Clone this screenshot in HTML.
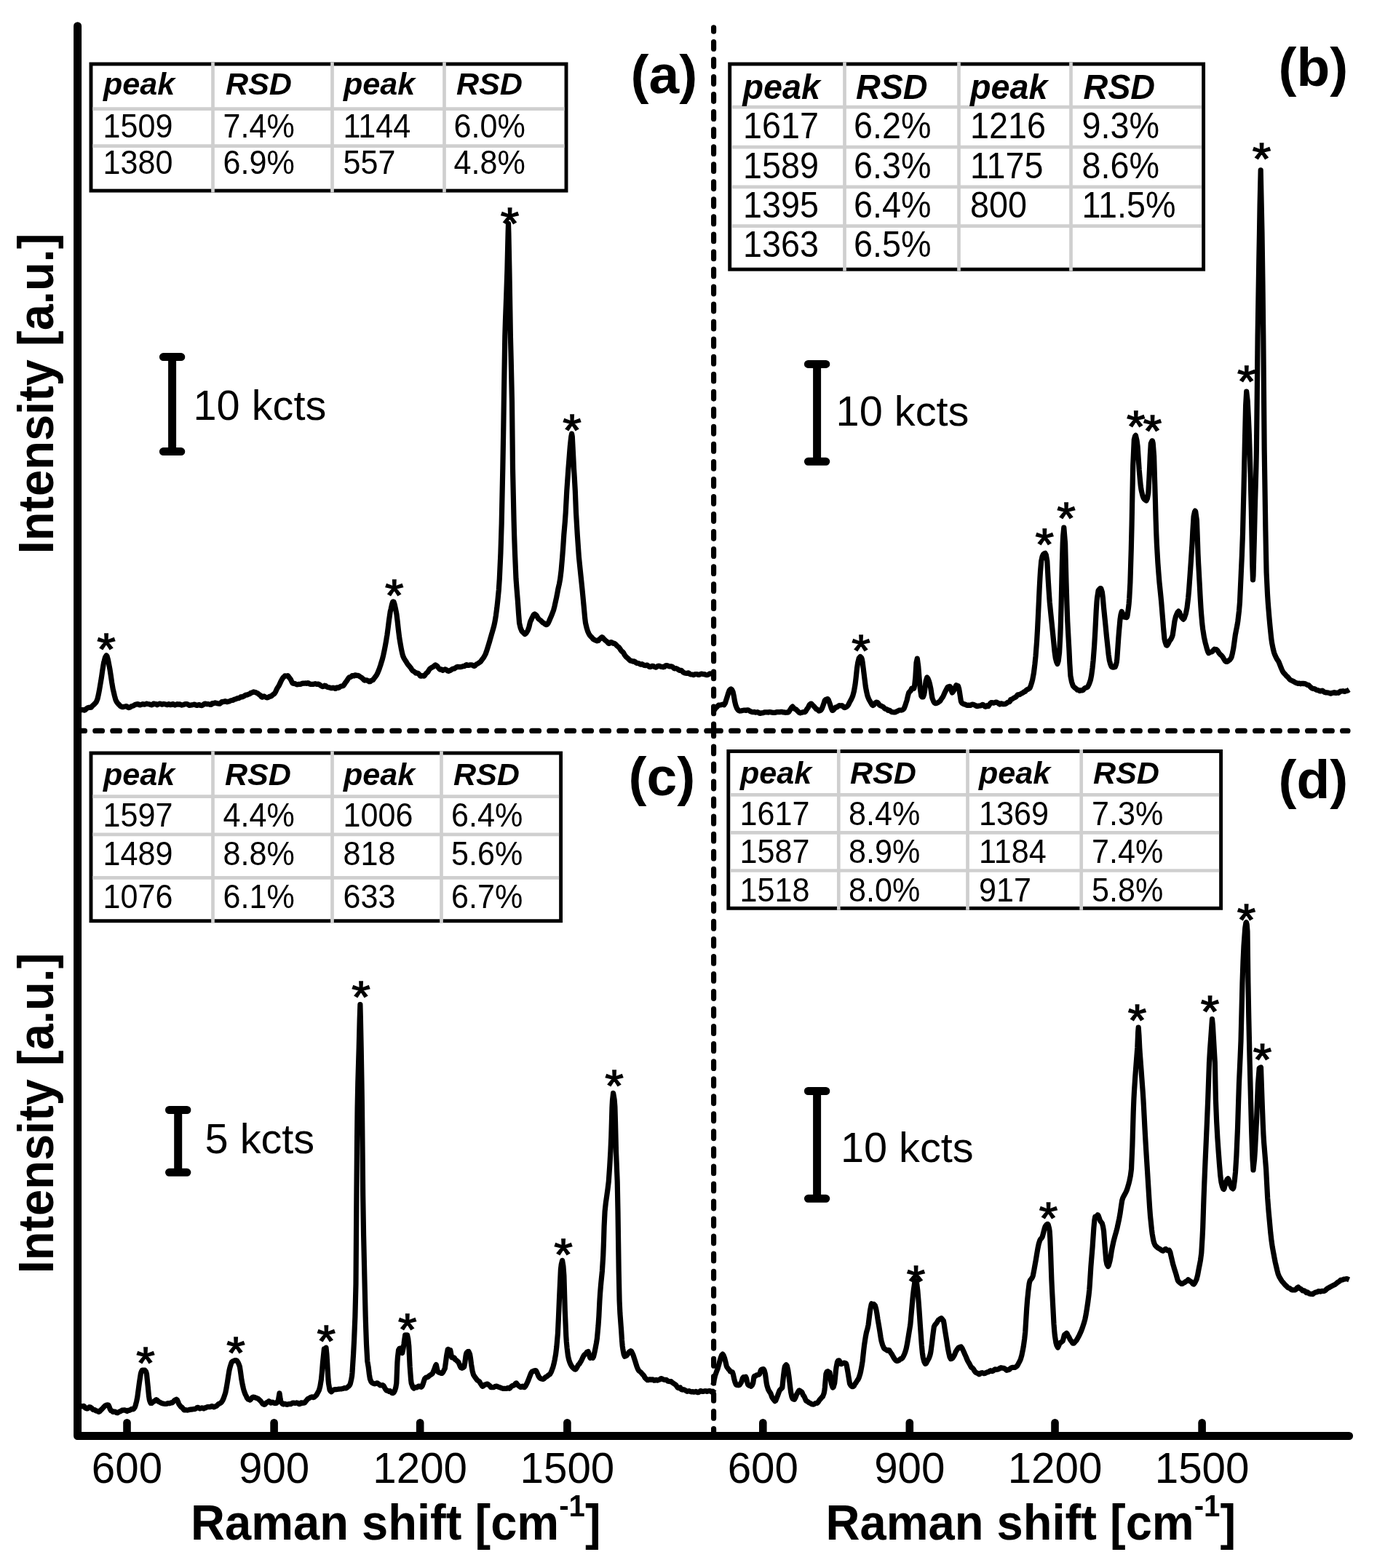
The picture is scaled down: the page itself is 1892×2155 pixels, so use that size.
<!DOCTYPE html>
<html lang="en"><head><meta charset="utf-8"><title>SERS spectra with RSD tables</title>
<style>html,body{margin:0;padding:0;background:#fff;}svg{display:block;}text{font-family:"Liberation Sans", Arial, Helvetica, sans-serif;fill:#000;}.tb{font-weight:bold;font-style:italic;}.b{font-weight:bold;}</style></head><body>
<svg width="1892" height="2155" viewBox="0 0 1892 2155">
<rect x="0" y="0" width="1892" height="2155" fill="#fff"/>
<g>
<rect x="125.0" y="88.0" width="653.0" height="174.1" fill="#fff" stroke="#000" stroke-width="4.9"/>
<line x1="127.4" y1="149.6" x2="775.5" y2="149.6" stroke="#cfcfcf" stroke-width="4.7"/>
<line x1="127.4" y1="200.6" x2="775.5" y2="200.6" stroke="#cfcfcf" stroke-width="4.7"/>
<line x1="292.5" y1="85.5" x2="292.5" y2="264.5" stroke="#cfcfcf" stroke-width="4.7"/>
<line x1="456.5" y1="85.5" x2="456.5" y2="264.5" stroke="#cfcfcf" stroke-width="4.7"/>
<line x1="610.5" y1="85.5" x2="610.5" y2="264.5" stroke="#cfcfcf" stroke-width="4.7"/>
<text class="tb" transform="translate(141.9,130.2) scale(1.007,1)" font-size="42.8">peak</text>
<text class="tb" transform="translate(309.9,130.2) scale(1.007,1)" font-size="42.8">RSD</text>
<text class="tb" transform="translate(471.9,130.2) scale(1.007,1)" font-size="42.8">peak</text>
<text class="tb" transform="translate(626.9,130.2) scale(1.007,1)" font-size="42.8">RSD</text>
<text transform="translate(141.5,189.1) scale(0.945,1)" font-size="45.6">1509</text>
<text transform="translate(306.5,189.1) scale(0.945,1)" font-size="45.6">7.4%</text>
<text transform="translate(471.5,189.1) scale(0.945,1)" font-size="45.6">1144</text>
<text transform="translate(623.5,189.1) scale(0.945,1)" font-size="45.6">6.0%</text>
<text transform="translate(141.5,239.2) scale(0.945,1)" font-size="45.6">1380</text>
<text transform="translate(306.5,239.2) scale(0.945,1)" font-size="45.6">6.9%</text>
<text transform="translate(471.5,239.2) scale(0.945,1)" font-size="45.6">557</text>
<text transform="translate(623.5,239.2) scale(0.945,1)" font-size="45.6">4.8%</text>
</g>
<g>
<rect x="1002.7" y="88.0" width="650.9" height="282.2" fill="#fff" stroke="#000" stroke-width="4.9"/>
<line x1="1005.1" y1="147.2" x2="1651.1" y2="147.2" stroke="#cfcfcf" stroke-width="4.7"/>
<line x1="1005.1" y1="202.1" x2="1651.1" y2="202.1" stroke="#cfcfcf" stroke-width="4.7"/>
<line x1="1005.1" y1="256.8" x2="1651.1" y2="256.8" stroke="#cfcfcf" stroke-width="4.7"/>
<line x1="1005.1" y1="310.7" x2="1651.1" y2="310.7" stroke="#cfcfcf" stroke-width="4.7"/>
<line x1="1160.5" y1="85.5" x2="1160.5" y2="372.6" stroke="#cfcfcf" stroke-width="4.7"/>
<line x1="1317.5" y1="85.5" x2="1317.5" y2="372.6" stroke="#cfcfcf" stroke-width="4.7"/>
<line x1="1471.5" y1="85.5" x2="1471.5" y2="372.6" stroke="#cfcfcf" stroke-width="4.7"/>
<text class="tb" transform="translate(1020.4,135.7) scale(0.984,1)" font-size="47.5">peak</text>
<text class="tb" transform="translate(1175.9,135.7) scale(0.984,1)" font-size="47.5">RSD</text>
<text class="tb" transform="translate(1332.9,135.7) scale(0.984,1)" font-size="47.5">peak</text>
<text class="tb" transform="translate(1488.4,135.7) scale(0.984,1)" font-size="47.5">RSD</text>
<text transform="translate(1021.0,190.3) scale(0.950,1)" font-size="49.2">1617</text>
<text transform="translate(1173.0,190.3) scale(0.950,1)" font-size="49.2">6.2%</text>
<text transform="translate(1333.0,190.3) scale(0.950,1)" font-size="49.2">1216</text>
<text transform="translate(1486.5,190.3) scale(0.950,1)" font-size="49.2">9.3%</text>
<text transform="translate(1021.0,244.7) scale(0.950,1)" font-size="49.2">1589</text>
<text transform="translate(1173.0,244.7) scale(0.950,1)" font-size="49.2">6.3%</text>
<text transform="translate(1333.0,244.7) scale(0.950,1)" font-size="49.2">1175</text>
<text transform="translate(1486.5,244.7) scale(0.950,1)" font-size="49.2">8.6%</text>
<text transform="translate(1021.0,298.9) scale(0.950,1)" font-size="49.2">1395</text>
<text transform="translate(1173.0,298.9) scale(0.950,1)" font-size="49.2">6.4%</text>
<text transform="translate(1333.0,298.9) scale(0.950,1)" font-size="49.2">800</text>
<text transform="translate(1486.5,298.9) scale(0.950,1)" font-size="49.2">11.5%</text>
<text transform="translate(1021.0,352.8) scale(0.950,1)" font-size="49.2">1363</text>
<text transform="translate(1173.0,352.8) scale(0.950,1)" font-size="49.2">6.5%</text>
</g>
<g>
<rect x="125.0" y="1035.0" width="645.6" height="230.7" fill="#fff" stroke="#000" stroke-width="4.9"/>
<line x1="127.4" y1="1094.6" x2="768.1" y2="1094.6" stroke="#cfcfcf" stroke-width="4.7"/>
<line x1="127.4" y1="1146.9" x2="768.1" y2="1146.9" stroke="#cfcfcf" stroke-width="4.7"/>
<line x1="127.4" y1="1206.3" x2="768.1" y2="1206.3" stroke="#cfcfcf" stroke-width="4.7"/>
<line x1="292.5" y1="1032.6" x2="292.5" y2="1268.2" stroke="#cfcfcf" stroke-width="4.7"/>
<line x1="456.5" y1="1032.6" x2="456.5" y2="1268.2" stroke="#cfcfcf" stroke-width="4.7"/>
<line x1="606.5" y1="1032.6" x2="606.5" y2="1268.2" stroke="#cfcfcf" stroke-width="4.7"/>
<text class="tb" transform="translate(141.9,1078.9) scale(1.007,1)" font-size="42.8">peak</text>
<text class="tb" transform="translate(308.9,1078.9) scale(1.007,1)" font-size="42.8">RSD</text>
<text class="tb" transform="translate(471.9,1078.9) scale(1.007,1)" font-size="42.8">peak</text>
<text class="tb" transform="translate(622.9,1078.9) scale(1.007,1)" font-size="42.8">RSD</text>
<text transform="translate(141.5,1136.1) scale(0.945,1)" font-size="45.6">1597</text>
<text transform="translate(306.5,1136.1) scale(0.945,1)" font-size="45.6">4.4%</text>
<text transform="translate(471.5,1136.1) scale(0.945,1)" font-size="45.6">1006</text>
<text transform="translate(620.0,1136.1) scale(0.945,1)" font-size="45.6">6.4%</text>
<text transform="translate(141.5,1188.5) scale(0.945,1)" font-size="45.6">1489</text>
<text transform="translate(306.5,1188.5) scale(0.945,1)" font-size="45.6">8.8%</text>
<text transform="translate(471.5,1188.5) scale(0.945,1)" font-size="45.6">818</text>
<text transform="translate(620.0,1188.5) scale(0.945,1)" font-size="45.6">5.6%</text>
<text transform="translate(141.5,1248.2) scale(0.945,1)" font-size="45.6">1076</text>
<text transform="translate(306.5,1248.2) scale(0.945,1)" font-size="45.6">6.1%</text>
<text transform="translate(471.5,1248.2) scale(0.945,1)" font-size="45.6">633</text>
<text transform="translate(620.0,1248.2) scale(0.945,1)" font-size="45.6">6.7%</text>
</g>
<g>
<rect x="1000.8" y="1032.5" width="676.8" height="215.8" fill="#fff" stroke="#000" stroke-width="4.9"/>
<line x1="1003.2" y1="1092.4" x2="1675.1" y2="1092.4" stroke="#cfcfcf" stroke-width="4.7"/>
<line x1="1003.2" y1="1144.3" x2="1675.1" y2="1144.3" stroke="#cfcfcf" stroke-width="4.7"/>
<line x1="1003.2" y1="1196.5" x2="1675.1" y2="1196.5" stroke="#cfcfcf" stroke-width="4.7"/>
<line x1="1152.3" y1="1030.0" x2="1152.3" y2="1250.7" stroke="#cfcfcf" stroke-width="4.7"/>
<line x1="1329.5" y1="1030.0" x2="1329.5" y2="1250.7" stroke="#cfcfcf" stroke-width="4.7"/>
<line x1="1485.7" y1="1030.0" x2="1485.7" y2="1250.7" stroke="#cfcfcf" stroke-width="4.7"/>
<text class="tb" transform="translate(1016.9,1077.2) scale(1.007,1)" font-size="42.8">peak</text>
<text class="tb" transform="translate(1167.9,1077.2) scale(1.007,1)" font-size="42.8">RSD</text>
<text class="tb" transform="translate(1344.9,1077.2) scale(1.007,1)" font-size="42.8">peak</text>
<text class="tb" transform="translate(1501.9,1077.2) scale(1.007,1)" font-size="42.8">RSD</text>
<text transform="translate(1016.5,1134.1) scale(0.945,1)" font-size="45.6">1617</text>
<text transform="translate(1166.0,1134.1) scale(0.945,1)" font-size="45.6">8.4%</text>
<text transform="translate(1345.0,1134.1) scale(0.945,1)" font-size="45.6">1369</text>
<text transform="translate(1500.0,1134.1) scale(0.945,1)" font-size="45.6">7.3%</text>
<text transform="translate(1016.5,1186.2) scale(0.945,1)" font-size="45.6">1587</text>
<text transform="translate(1166.0,1186.2) scale(0.945,1)" font-size="45.6">8.9%</text>
<text transform="translate(1345.0,1186.2) scale(0.945,1)" font-size="45.6">1184</text>
<text transform="translate(1500.0,1186.2) scale(0.945,1)" font-size="45.6">7.4%</text>
<text transform="translate(1016.5,1238.6) scale(0.945,1)" font-size="45.6">1518</text>
<text transform="translate(1166.0,1238.6) scale(0.945,1)" font-size="45.6">8.0%</text>
<text transform="translate(1345.0,1238.6) scale(0.945,1)" font-size="45.6">917</text>
<text transform="translate(1500.0,1238.6) scale(0.945,1)" font-size="45.6">5.8%</text>
</g>
<path d="M106.6,35.7 L106.6,1973.5 L1853.6,1973.5" fill="none" stroke="#000" stroke-width="11.0" stroke-linecap="round" stroke-linejoin="round"/>
<line x1="174.5" y1="1955.3" x2="174.5" y2="1972" stroke="#000" stroke-width="10.6" stroke-linecap="round"/>
<line x1="376.6" y1="1955.3" x2="376.6" y2="1972" stroke="#000" stroke-width="10.6" stroke-linecap="round"/>
<line x1="577.2" y1="1955.3" x2="577.2" y2="1972" stroke="#000" stroke-width="10.6" stroke-linecap="round"/>
<line x1="779.4" y1="1955.3" x2="779.4" y2="1972" stroke="#000" stroke-width="10.6" stroke-linecap="round"/>
<line x1="1048.3" y1="1955.3" x2="1048.3" y2="1972" stroke="#000" stroke-width="10.6" stroke-linecap="round"/>
<line x1="1249.8" y1="1955.3" x2="1249.8" y2="1972" stroke="#000" stroke-width="10.6" stroke-linecap="round"/>
<line x1="1449.5" y1="1955.3" x2="1449.5" y2="1972" stroke="#000" stroke-width="10.6" stroke-linecap="round"/>
<line x1="1651.6" y1="1955.3" x2="1651.6" y2="1972" stroke="#000" stroke-width="10.6" stroke-linecap="round"/>
<text text-anchor="middle" x="174.5" y="2037.8" font-size="58.3">600</text>
<text text-anchor="middle" x="376.6" y="2037.8" font-size="58.3">900</text>
<text text-anchor="middle" x="577.2" y="2037.8" font-size="58.3">1200</text>
<text text-anchor="middle" x="779.4" y="2037.8" font-size="58.3">1500</text>
<text text-anchor="middle" x="1048.3" y="2037.8" font-size="58.3">600</text>
<text text-anchor="middle" x="1249.8" y="2037.8" font-size="58.3">900</text>
<text text-anchor="middle" x="1449.5" y="2037.8" font-size="58.3">1200</text>
<text text-anchor="middle" x="1651.6" y="2037.8" font-size="58.3">1500</text>
<text class="b" transform="translate(262.0,2115.6) scale(0.957,1)" font-size="68.0">Raman shift [cm<tspan dy="-32" font-size="42">-1</tspan><tspan dy="32">]</tspan></text>
<text class="b" transform="translate(1134.5,2115.6) scale(0.957,1)" font-size="68.0">Raman shift [cm<tspan dy="-32" font-size="42">-1</tspan><tspan dy="32">]</tspan></text>
<text class="b" transform="translate(73.3,541.0) rotate(-90) scale(0.956,1)" font-size="68" text-anchor="middle">Intensity [a.u.]</text>
<text class="b" transform="translate(73.3,1530.0) rotate(-90) scale(0.956,1)" font-size="68" text-anchor="middle">Intensity [a.u.]</text>
<line x1="980.6" y1="37.9" x2="980.6" y2="1004.0" stroke="#000" stroke-width="7.2" stroke-linecap="round" stroke-dasharray="9.7 14.34" stroke-dashoffset="4.4"/>
<line x1="980.6" y1="1002.0" x2="980.6" y2="1975.0" stroke="#000" stroke-width="7.2" stroke-linecap="round" stroke-dasharray="9.7 14.34" stroke-dashoffset="0.0"/>
<line x1="106.8" y1="1004.4" x2="985.0" y2="1004.4" stroke="#000" stroke-width="7.2" stroke-linecap="round" stroke-dasharray="9.7 14.30" stroke-dashoffset="0.0"/>
<line x1="980.6" y1="1004.4" x2="1852.0" y2="1004.4" stroke="#000" stroke-width="7.2" stroke-linecap="round" stroke-dasharray="9.7 14.30" stroke-dashoffset="0.0"/>
<path d="M224.4,490.6 H248.8 M224.4,620.6 H248.8 M236.6,490.6 V620.6" fill="none" stroke="#000" stroke-width="11.0" stroke-linecap="round"/>
<path d="M1110.4,500.4 H1134.8 M1110.4,634.3 H1134.8 M1122.6,500.4 V634.3" fill="none" stroke="#000" stroke-width="11.0" stroke-linecap="round"/>
<path d="M232.5,1525.5 H256.9 M232.5,1611.3 H256.9 M244.7,1525.5 V1611.3" fill="none" stroke="#000" stroke-width="11.0" stroke-linecap="round"/>
<path d="M1110.4,1499.5 H1134.8 M1110.4,1647.3 H1134.8 M1122.6,1499.5 V1647.3" fill="none" stroke="#000" stroke-width="11.0" stroke-linecap="round"/>
<text transform="translate(265.5,576.7) scale(0.990,1)" font-size="58.3">10 kcts</text>
<text transform="translate(1148.6,584.9) scale(0.990,1)" font-size="58.3">10 kcts</text>
<text transform="translate(281.5,1585.3) scale(0.990,1)" font-size="58.3">5 kcts</text>
<text transform="translate(1154.9,1596.6) scale(0.990,1)" font-size="58.3">10 kcts</text>
<text class="b" x="866.5" y="128.0" font-size="75">(a)</text>
<text class="b" x="1756.5" y="118.0" font-size="75">(b)</text>
<text class="b" x="863.5" y="1093.0" font-size="75">(c)</text>
<text class="b" x="1756.5" y="1096.8" font-size="75">(d)</text>
<path d="M108.1,977.0 L109.4,977.1 L110.7,976.0 L112.0,975.6 L113.3,975.7 L114.6,975.6 L115.9,976.1 L117.2,975.6 L118.5,974.1 L119.8,973.2 L121.1,972.7 L122.4,972.3 L123.7,972.5 L125.1,972.3 L126.3,970.9 L127.6,969.5 L128.9,968.4 L130.2,967.1 L131.5,965.8 L132.6,964.0 L134.1,960.1 L135.4,954.3 L136.7,947.3 L137.6,942.0 L139.3,931.9 L140.6,922.8 L141.9,914.5 L142.6,910.5 L143.2,908.4 L144.5,903.4 L146.2,900.8 L147.1,902.0 L148.4,906.5 L149.7,913.1 L150.2,915.9 L151.0,920.0 L152.3,928.6 L153.6,937.6 L155.2,947.0 L156.2,951.1 L157.5,956.6 L158.8,961.4 L160.2,964.4 L161.4,966.1 L162.7,967.6 L164.0,968.9 L165.3,970.4 L166.6,971.0 L167.7,971.6 L169.2,971.7 L170.5,971.2 L171.8,971.0 L173.1,970.5 L174.4,970.9 L175.7,972.1 L177.0,972.6 L178.3,972.2 L179.6,971.5 L180.3,971.0 L180.9,970.5 L182.2,970.3 L183.5,969.9 L184.8,968.9 L186.1,968.2 L187.4,968.2 L188.7,967.7 L190.3,967.8 L191.3,968.8 L192.6,969.0 L193.9,968.5 L195.2,967.8 L196.5,967.7 L197.8,968.1 L199.1,968.1 L200.4,967.4 L201.7,967.1 L203.0,967.5 L204.3,967.7 L205.6,967.9 L206.9,968.5 L208.2,968.9 L209.5,968.4 L210.8,967.2 L212.1,967.2 L213.4,967.8 L214.7,967.6 L215.4,968.0 L216.0,968.7 L217.3,968.0 L218.6,967.3 L219.9,967.1 L221.2,967.6 L222.5,968.2 L223.8,967.8 L225.1,967.4 L226.4,967.7 L227.7,968.0 L229.0,968.6 L230.3,968.6 L231.6,967.7 L232.9,967.8 L234.2,968.7 L235.5,968.5 L236.8,967.6 L238.1,967.7 L239.4,968.6 L240.4,969.1 L242.0,968.3 L243.3,967.7 L244.6,968.1 L245.9,967.9 L247.2,967.8 L248.5,968.6 L249.8,969.1 L251.1,968.8 L252.4,968.4 L253.7,967.9 L255.0,967.5 L256.3,967.6 L257.6,967.8 L258.9,968.6 L260.2,969.4 L261.5,969.2 L262.8,968.9 L264.1,968.8 L265.5,968.5 L266.7,968.1 L268.0,968.3 L269.3,969.1 L270.6,969.5 L271.9,969.1 L273.2,968.5 L274.5,968.8 L275.8,969.5 L277.1,969.6 L278.4,969.1 L279.7,968.2 L281.0,967.3 L282.3,967.0 L283.6,967.6 L284.9,967.8 L286.2,967.5 L287.5,968.0 L288.8,968.5 L290.1,968.5 L290.6,968.1 L291.4,966.8 L292.7,966.5 L294.0,966.6 L295.3,965.9 L296.6,966.0 L297.9,966.7 L299.2,966.8 L300.5,967.1 L301.8,967.2 L303.1,966.3 L304.4,964.8 L305.7,964.4 L307.0,964.7 L308.3,964.0 L309.6,963.6 L310.9,964.3 L312.2,964.7 L313.5,964.2 L314.8,964.0 L315.6,963.6 L317.4,962.7 L318.7,962.5 L320.0,962.4 L321.3,961.6 L322.6,961.0 L323.9,960.9 L325.2,960.2 L326.5,959.7 L327.8,959.7 L329.1,959.1 L330.7,957.9 L331.7,957.7 L333.0,957.8 L334.3,957.4 L335.6,956.5 L336.9,955.4 L338.2,955.1 L339.5,955.1 L340.7,954.4 L342.1,954.0 L343.4,953.4 L344.7,952.3 L346.0,952.0 L347.3,951.4 L348.6,950.9 L349.9,951.2 L350.7,951.4 L352.5,952.2 L353.8,952.8 L355.1,953.7 L356.4,954.9 L357.7,955.5 L358.3,956.0 L359.0,957.6 L360.3,958.2 L361.6,957.3 L362.9,956.9 L364.2,957.8 L365.8,958.5 L366.8,958.8 L368.1,958.7 L369.4,957.9 L370.7,957.1 L372.0,957.1 L373.3,956.4 L374.6,955.0 L375.8,954.2 L377.2,953.2 L378.5,951.1 L379.8,948.2 L381.1,945.6 L382.4,943.6 L383.3,942.2 L385.0,938.6 L386.3,935.7 L387.6,933.4 L388.9,931.3 L390.2,930.2 L390.8,929.7 L391.5,928.8 L392.8,929.0 L394.1,929.0 L395.4,928.6 L395.9,929.0 L396.7,930.4 L398.0,931.9 L399.3,933.6 L400.6,936.3 L401.9,938.8 L403.4,939.4 L404.5,939.4 L405.8,939.8 L407.1,940.3 L408.4,940.8 L409.7,940.6 L411.0,940.3 L412.3,940.4 L413.6,940.2 L414.9,939.4 L415.9,939.0 L417.5,939.3 L418.8,939.0 L420.1,938.9 L421.4,939.4 L422.7,938.7 L424.0,938.8 L425.3,940.0 L426.6,940.5 L427.9,940.4 L429.2,940.4 L430.5,940.4 L431.0,940.4 L431.8,940.0 L433.1,939.7 L434.4,940.1 L435.7,940.5 L437.0,940.1 L438.3,940.4 L439.6,941.4 L440.9,942.4 L442.2,943.1 L443.5,943.6 L444.8,943.2 L446.0,942.2 L447.4,942.5 L448.7,943.7 L450.0,944.5 L451.3,944.6 L452.6,944.9 L453.9,945.3 L455.2,945.7 L456.5,945.7 L457.8,945.2 L459.1,945.5 L460.4,946.5 L461.0,946.4 L461.7,945.2 L463.0,944.9 L464.3,945.4 L465.6,945.1 L466.9,944.1 L468.2,943.3 L469.5,943.0 L471.1,942.7 L472.1,942.0 L473.4,940.1 L474.7,938.0 L476.0,936.4 L477.3,934.5 L478.6,932.3 L479.9,930.8 L481.1,930.6 L482.5,930.1 L483.8,928.7 L485.1,928.7 L486.4,928.9 L487.7,927.8 L489.0,927.9 L490.3,928.5 L491.1,928.3 L492.9,928.8 L494.2,929.7 L495.5,930.5 L496.8,931.3 L498.1,932.4 L499.4,933.7 L500.7,935.1 L501.2,935.1 L502.0,934.7 L503.3,934.8 L504.6,935.1 L505.9,935.9 L507.2,936.8 L508.7,936.6 L509.8,935.5 L511.1,935.1 L512.4,934.5 L513.7,932.8 L515.0,931.0 L516.2,929.5 L517.6,927.4 L518.9,924.8 L520.2,921.7 L521.5,918.2 L522.8,914.4 L523.7,911.4 L525.4,905.9 L526.7,900.6 L528.0,894.6 L529.3,887.9 L530.6,880.7 L531.2,876.7 L531.9,872.8 L533.2,862.9 L534.5,852.3 L535.8,843.4 L536.2,840.7 L537.1,837.1 L538.4,831.2 L539.7,827.2 L540.3,826.8 L541.0,827.2 L542.3,831.2 L543.6,837.2 L544.3,840.7 L544.9,843.9 L546.2,854.5 L547.5,866.5 L548.8,876.9 L550.1,884.6 L551.4,892.0 L552.7,898.1 L553.8,901.9 L555.3,905.1 L556.6,907.2 L557.9,909.1 L559.2,911.4 L560.5,913.4 L561.3,914.2 L563.1,916.3 L564.4,917.9 L565.7,920.1 L567.0,921.8 L568.3,922.5 L569.6,923.4 L570.9,924.5 L571.3,925.2 L572.2,925.2 L573.5,925.0 L574.8,925.6 L576.1,927.1 L577.4,928.9 L578.7,929.2 L580.0,928.6 L581.4,929.0 L582.6,929.2 L583.9,927.9 L585.2,925.9 L586.5,924.7 L587.8,923.6 L589.1,921.4 L590.4,919.4 L591.4,918.6 L593.0,917.5 L594.3,916.8 L595.6,916.2 L596.9,914.9 L598.2,913.9 L598.9,914.2 L599.5,914.6 L600.8,915.6 L602.1,917.4 L603.4,919.1 L604.7,920.1 L606.0,920.2 L606.4,919.9 L607.3,920.8 L608.6,921.4 L609.9,920.5 L611.2,919.9 L612.5,920.1 L613.8,920.8 L615.1,922.1 L616.5,922.4 L617.7,921.7 L619.0,921.3 L620.3,920.4 L621.6,919.4 L622.9,919.1 L624.2,919.0 L625.5,918.1 L626.8,917.2 L628.1,916.5 L629.0,916.4 L630.7,916.7 L632.0,916.7 L633.3,916.6 L634.6,916.3 L635.9,915.7 L637.2,915.7 L638.5,915.4 L639.8,914.2 L641.1,913.6 L641.5,914.0 L642.4,914.5 L643.7,914.5 L645.0,914.1 L646.3,913.8 L647.6,913.8 L648.9,914.0 L650.2,914.9 L651.6,915.5 L652.8,914.8 L654.1,913.4 L655.4,912.5 L656.7,912.0 L658.0,911.0 L659.3,910.1 L660.6,909.1 L661.6,907.6 L663.2,905.4 L664.5,903.8 L665.8,901.4 L666.5,900.0 L667.1,899.0 L668.4,895.3 L669.7,891.3 L671.1,886.8 L672.3,882.9 L673.6,878.3 L674.9,873.8 L675.6,871.2 L676.2,869.3 L677.5,864.8 L678.8,860.0 L679.6,856.2 L680.1,853.8 L681.4,845.8 L682.7,836.1 L683.8,826.1 L685.3,810.6 L686.3,795.6 L687.9,760.6 L688.7,735.0 L689.2,719.2 L690.8,644.0 L691.8,587.6 L692.3,553.0 L693.1,503.8 L693.8,462.0 L694.4,441.9 L695.7,406.9 L696.9,371.0 L698.1,320.0 L698.5,307.4 L698.9,320.0 L699.9,371.0 L700.9,430.1 L701.4,462.0 L702.2,493.8 L703.5,553.0 L704.5,644.0 L706.1,716.5 L706.6,735.0 L707.4,757.7 L709.0,795.6 L710.0,809.0 L711.4,826.0 L712.6,844.1 L713.6,856.4 L715.2,863.2 L716.5,866.3 L717.0,867.4 L717.8,868.3 L719.1,869.5 L720.4,871.0 L721.3,871.5 L723.0,870.1 L724.3,868.1 L725.5,865.9 L726.9,861.6 L728.2,856.0 L729.0,853.5 L729.5,852.7 L730.8,849.7 L732.5,846.3 L733.4,844.6 L734.7,843.9 L735.5,844.5 L736.0,844.8 L737.3,846.1 L739.0,849.1 L739.9,850.4 L741.2,851.5 L742.5,852.5 L743.8,853.6 L745.0,855.0 L746.4,856.0 L747.7,856.7 L749.0,857.9 L750.3,858.6 L751.6,858.5 L752.9,857.0 L754.2,854.2 L755.5,851.2 L756.0,850.0 L756.8,848.3 L758.1,845.2 L759.7,841.0 L760.7,838.2 L762.0,833.1 L763.6,825.8 L764.6,821.3 L765.9,814.6 L766.6,810.6 L767.2,807.9 L768.5,802.2 L769.7,795.5 L771.1,784.0 L772.7,765.3 L773.7,752.1 L774.8,735.0 L776.3,717.4 L777.2,704.6 L778.8,674.3 L780.2,654.1 L780.9,644.0 L781.5,636.5 L782.8,619.8 L783.3,613.6 L784.1,606.0 L784.8,600.0 L785.6,596.1 L786.3,600.0 L787.0,613.6 L788.0,633.2 L788.5,644.0 L789.3,656.4 L790.3,674.3 L791.5,704.6 L793.3,735.0 L794.5,752.6 L795.4,765.4 L797.1,782.2 L798.5,795.7 L799.7,807.2 L801.0,820.5 L801.5,826.0 L802.3,834.3 L803.6,848.8 L804.5,856.1 L806.2,863.3 L807.5,867.5 L809.1,871.0 L810.1,872.7 L811.4,874.4 L812.7,875.5 L814.0,877.1 L815.3,878.6 L815.9,878.7 L816.6,879.1 L817.9,880.0 L819.2,880.3 L820.5,880.8 L822.0,880.5 L823.1,879.0 L824.4,877.9 L825.7,876.8 L827.0,875.7 L828.0,876.1 L829.6,878.0 L830.9,879.4 L832.0,880.3 L833.5,881.4 L834.8,882.7 L836.1,884.3 L837.2,884.3 L838.7,882.9 L840.0,882.5 L841.3,883.6 L843.0,884.3 L843.9,884.2 L845.2,884.9 L846.5,886.1 L847.8,887.6 L849.3,888.9 L850.4,889.7 L851.7,891.4 L853.0,893.5 L854.0,894.8 L855.6,896.0 L856.9,897.6 L858.2,900.1 L859.5,901.8 L860.8,903.2 L862.1,904.3 L863.4,905.3 L864.7,906.8 L866.0,907.9 L867.2,908.2 L868.6,908.7 L869.9,909.2 L871.2,908.8 L872.5,909.4 L873.8,910.8 L875.1,911.3 L876.4,911.4 L877.7,911.7 L879.0,912.6 L880.3,913.2 L881.6,912.9 L882.2,912.7 L882.9,913.1 L884.2,913.9 L885.5,914.5 L886.8,914.6 L888.1,914.1 L889.4,914.2 L890.7,915.3 L892.0,916.2 L893.3,916.6 L894.6,916.3 L895.9,915.4 L897.3,915.3 L898.5,916.1 L899.8,916.7 L901.1,917.2 L902.4,916.6 L903.7,915.5 L905.0,915.2 L906.3,915.4 L907.6,916.1 L908.9,916.4 L910.2,916.3 L911.5,916.8 L912.8,916.5 L914.1,915.1 L915.4,914.5 L916.7,914.8 L917.3,914.9 L918.0,915.2 L919.3,915.8 L920.6,915.9 L921.9,915.9 L923.2,916.1 L924.5,916.9 L925.8,918.3 L927.1,918.8 L928.4,918.5 L929.7,918.9 L931.0,919.6 L932.4,920.5 L933.6,921.4 L934.9,921.4 L936.2,921.4 L937.5,922.6 L938.8,924.0 L940.1,924.8 L941.4,925.1 L942.7,925.3 L944.0,925.3 L945.3,924.8 L946.6,925.2 L947.9,926.5 L949.2,927.0 L950.5,927.0 L951.8,927.0 L952.4,927.5 L953.1,927.6 L954.4,926.9 L955.7,926.5 L957.0,926.5 L958.3,926.8 L959.6,927.4 L960.9,927.4 L962.2,926.5 L963.5,926.0 L964.8,926.3 L966.1,926.6 L967.5,926.5 L968.7,926.9 L970.0,927.5 L971.3,927.6 L972.6,927.5 L973.9,926.7 L975.2,925.8 L976.5,926.0 L977.8,925.9 L978.5,925.4" fill="none" stroke="#000" stroke-width="7.2" stroke-linejoin="round" stroke-linecap="butt"/>
<path d="M981.0,976.5 L982.3,974.6 L983.6,972.8 L984.9,971.8 L986.2,970.4 L987.5,969.1 L988.8,969.0 L990.1,969.0 L991.4,968.5 L992.7,968.2 L994.0,968.2 L995.0,968.7 L996.6,966.1 L997.9,961.6 L998.8,959.0 L1000.5,953.3 L1002.1,948.9 L1003.1,947.6 L1004.3,947.0 L1005.7,948.0 L1007.1,951.1 L1008.3,956.5 L1009.6,964.1 L1010.1,966.2 L1010.9,969.4 L1012.6,973.8 L1013.5,974.9 L1014.8,976.5 L1016.1,977.1 L1017.6,977.0 L1018.7,976.9 L1020.0,976.5 L1021.3,976.3 L1022.6,976.1 L1023.9,976.1 L1025.2,976.4 L1026.5,975.9 L1027.8,975.8 L1029.1,976.4 L1030.1,977.1 L1031.7,978.0 L1033.0,978.5 L1034.3,978.6 L1035.6,978.6 L1036.4,978.4 L1036.9,978.6 L1038.2,979.1 L1039.5,979.0 L1040.8,978.7 L1042.1,979.1 L1043.4,980.2 L1044.7,980.4 L1046.0,979.8 L1047.3,979.8 L1048.6,979.7 L1049.9,979.1 L1051.2,978.8 L1052.5,978.8 L1053.8,978.8 L1055.2,979.1 L1056.4,978.9 L1057.7,978.5 L1059.0,978.7 L1060.3,979.1 L1061.6,979.3 L1062.9,979.3 L1064.2,979.4 L1065.5,979.2 L1066.8,978.8 L1067.7,978.6 L1069.4,978.6 L1070.7,978.7 L1072.0,978.6 L1073.3,978.3 L1074.6,978.3 L1075.9,978.8 L1077.2,978.8 L1078.5,979.2 L1079.8,979.3 L1081.1,979.0 L1082.8,979.1 L1083.7,978.5 L1085.0,976.5 L1086.5,974.1 L1087.6,972.4 L1089.0,971.1 L1090.2,972.4 L1091.5,974.1 L1092.8,974.7 L1094.1,975.2 L1095.4,976.6 L1096.7,977.9 L1097.8,979.1 L1099.3,979.9 L1100.6,979.6 L1101.9,979.1 L1103.2,978.9 L1104.5,978.5 L1105.3,978.5 L1105.8,978.7 L1107.1,977.4 L1108.4,975.1 L1109.7,973.2 L1110.4,972.6 L1111.0,970.9 L1112.3,968.6 L1113.6,967.5 L1114.1,967.1 L1114.9,967.3 L1116.2,968.6 L1117.9,970.4 L1118.8,971.2 L1120.1,972.8 L1121.6,974.5 L1122.7,974.8 L1124.0,975.8 L1125.3,977.1 L1126.7,976.8 L1127.9,976.0 L1129.2,974.0 L1130.4,971.2 L1131.8,967.1 L1133.1,963.0 L1134.2,961.6 L1135.7,961.0 L1137.4,960.6 L1138.3,962.0 L1139.6,965.5 L1140.4,967.8 L1140.9,969.3 L1142.2,973.3 L1143.5,976.4 L1144.2,976.5 L1144.8,975.9 L1146.1,974.6 L1147.4,972.8 L1148.0,972.2 L1148.7,972.3 L1150.0,971.8 L1151.3,970.8 L1153.0,969.7 L1153.9,969.7 L1155.2,970.0 L1156.7,969.7 L1157.8,970.1 L1159.1,971.8 L1160.5,972.6 L1161.7,972.3 L1163.0,971.5 L1164.3,970.4 L1165.6,968.8 L1166.9,966.2 L1168.0,964.0 L1169.5,961.4 L1170.8,958.5 L1171.8,956.1 L1173.4,950.0 L1175.0,941.0 L1176.0,932.8 L1177.5,918.4 L1178.6,911.2 L1180.1,905.0 L1181.2,903.5 L1182.1,902.5 L1183.8,904.3 L1184.3,905.8 L1185.1,909.9 L1186.8,923.4 L1187.7,930.7 L1189.3,943.5 L1190.3,949.1 L1191.8,955.8 L1192.9,958.9 L1194.2,961.9 L1195.6,964.1 L1196.8,966.2 L1198.1,968.5 L1199.4,969.6 L1200.7,968.7 L1202.0,966.9 L1203.3,965.6 L1204.4,965.0 L1205.9,965.6 L1207.2,967.3 L1208.5,969.1 L1209.4,969.6 L1211.1,970.3 L1212.4,970.9 L1213.7,971.8 L1214.4,972.4 L1215.0,973.2 L1216.3,974.3 L1217.6,974.5 L1218.9,975.1 L1220.2,976.3 L1220.7,976.5 L1221.5,976.2 L1222.8,976.7 L1224.1,977.9 L1225.4,978.6 L1226.7,978.7 L1228.2,978.9 L1229.3,979.0 L1230.6,978.6 L1231.9,977.8 L1233.2,977.3 L1234.5,976.6 L1235.7,976.0 L1237.1,976.0 L1238.4,976.1 L1239.7,975.8 L1241.0,975.0 L1242.0,974.0 L1243.6,970.2 L1244.9,966.0 L1245.7,963.6 L1246.2,961.9 L1247.5,956.2 L1248.7,952.1 L1250.1,950.4 L1251.4,949.1 L1252.0,947.6 L1252.7,946.2 L1254.0,946.1 L1255.3,946.4 L1255.8,946.2 L1256.6,942.3 L1257.8,931.0 L1259.0,910.9 L1260.3,905.1 L1261.8,916.0 L1263.1,932.9 L1263.8,941.0 L1264.4,947.1 L1265.8,956.4 L1267.0,957.9 L1268.3,958.0 L1269.6,954.6 L1270.3,951.1 L1270.9,946.1 L1272.1,935.9 L1273.8,931.0 L1274.8,932.2 L1276.3,935.8 L1277.4,939.5 L1278.8,945.9 L1280.0,953.9 L1280.8,958.8 L1281.3,960.5 L1282.6,963.8 L1283.9,965.9 L1284.6,966.0 L1285.2,966.6 L1286.5,966.7 L1287.8,966.0 L1289.1,965.5 L1289.6,964.8 L1290.4,964.5 L1291.7,963.5 L1293.0,961.3 L1294.6,959.0 L1295.6,957.6 L1296.9,954.7 L1298.4,951.3 L1299.5,949.1 L1300.8,946.6 L1302.1,944.4 L1303.4,943.7 L1304.7,943.4 L1305.4,943.5 L1306.0,945.0 L1307.3,949.6 L1308.4,952.0 L1309.9,950.1 L1311.4,947.4 L1312.5,944.4 L1313.9,941.7 L1315.1,942.6 L1316.4,942.6 L1317.7,946.9 L1318.4,950.9 L1319.0,954.7 L1320.4,963.8 L1321.6,966.2 L1322.9,967.0 L1324.2,967.7 L1324.7,967.9 L1325.5,967.9 L1326.8,968.4 L1328.1,969.2 L1329.4,969.4 L1331.0,969.1 L1332.0,969.3 L1333.3,969.4 L1334.6,968.6 L1335.9,968.1 L1337.2,968.3 L1338.5,968.7 L1339.8,969.3 L1341.1,970.1 L1342.4,970.6 L1343.5,970.4 L1345.0,970.1 L1346.3,970.0 L1347.6,969.9 L1348.9,968.9 L1350.2,968.3 L1351.5,969.2 L1352.8,970.7 L1354.1,971.3 L1355.4,970.7 L1356.0,969.9 L1356.7,970.6 L1358.0,970.6 L1359.3,968.7 L1360.6,966.8 L1361.9,965.7 L1363.6,965.5 L1364.5,966.1 L1365.8,966.1 L1367.1,965.4 L1368.6,965.0 L1369.7,965.3 L1371.0,966.0 L1372.3,967.2 L1373.6,968.0 L1374.9,967.1 L1376.2,966.8 L1377.5,967.6 L1378.8,967.8 L1380.1,967.6 L1381.1,967.6 L1382.7,966.8 L1384.0,965.7 L1385.3,965.0 L1386.6,964.8 L1387.9,963.6 L1388.6,961.6 L1389.2,961.2 L1390.5,961.0 L1391.8,960.0 L1393.1,959.2 L1394.4,958.7 L1396.1,957.7 L1397.0,956.4 L1398.3,954.9 L1399.6,954.7 L1400.9,954.6 L1402.2,953.8 L1403.5,953.1 L1404.8,952.5 L1406.1,951.7 L1407.4,950.7 L1408.0,950.7 L1408.7,950.3 L1410.0,948.6 L1411.3,947.7 L1412.6,947.3 L1413.9,946.4 L1414.7,945.9 L1415.2,945.1 L1416.5,941.7 L1417.8,937.6 L1418.7,934.2 L1420.4,925.0 L1421.9,912.9 L1423.0,902.0 L1424.6,880.9 L1425.6,863.5 L1426.7,840.7 L1428.2,808.1 L1428.9,795.3 L1429.5,785.4 L1430.7,771.3 L1432.1,764.7 L1433.4,762.0 L1434.7,760.9 L1436.1,760.3 L1437.3,762.7 L1438.8,771.2 L1440.1,795.3 L1441.2,812.9 L1442.2,827.3 L1443.8,843.5 L1444.9,854.1 L1446.4,869.2 L1447.6,880.9 L1449.0,895.4 L1450.3,904.7 L1451.6,909.7 L1452.9,912.4 L1454.2,908.3 L1455.6,896.9 L1456.8,873.7 L1457.5,854.1 L1458.1,831.3 L1458.8,800.6 L1459.4,774.7 L1460.2,747.2 L1460.7,736.4 L1461.8,725.0 L1463.6,747.2 L1465.0,800.6 L1465.9,829.7 L1466.8,854.1 L1468.5,885.5 L1469.0,894.2 L1469.8,911.8 L1470.9,929.0 L1472.4,936.8 L1473.7,940.8 L1474.3,942.5 L1475.0,943.5 L1476.3,944.8 L1477.6,945.7 L1478.9,946.8 L1480.2,948.1 L1481.5,948.3 L1482.8,948.7 L1483.4,949.4 L1484.1,949.2 L1485.4,948.7 L1486.7,948.9 L1488.2,948.3 L1489.3,947.0 L1490.6,945.6 L1491.9,945.2 L1493.6,944.8 L1494.5,943.9 L1495.8,941.6 L1497.1,938.4 L1498.4,934.5 L1499.7,928.0 L1501.0,918.2 L1502.1,907.6 L1503.6,887.8 L1504.8,867.5 L1506.2,839.2 L1507.0,827.3 L1507.5,821.7 L1509.1,811.6 L1510.1,810.3 L1511.8,808.6 L1512.7,808.6 L1514.4,813.9 L1515.3,821.1 L1516.3,832.8 L1517.9,848.7 L1519.0,859.5 L1520.5,875.1 L1521.7,886.2 L1523.1,899.4 L1524.3,907.6 L1525.7,912.7 L1527.0,915.9 L1527.8,916.7 L1528.3,916.9 L1529.6,917.1 L1531.0,916.9 L1532.2,916.6 L1533.5,913.2 L1534.2,910.2 L1534.8,905.7 L1536.1,886.9 L1536.9,875.5 L1537.4,869.2 L1539.0,851.4 L1540.0,844.7 L1541.2,840.5 L1542.6,843.1 L1543.9,846.6 L1544.4,847.9 L1545.2,848.2 L1546.5,848.1 L1547.8,848.7 L1548.4,848.4 L1549.1,845.8 L1550.4,836.3 L1551.1,830.1 L1551.7,822.7 L1552.9,800.6 L1554.3,754.2 L1555.1,720.4 L1555.6,693.8 L1556.7,640.2 L1558.3,604.1 L1559.5,599.6 L1560.4,598.4 L1562.1,605.6 L1563.1,613.5 L1564.7,637.7 L1565.2,645.6 L1566.0,654.7 L1567.3,668.1 L1567.9,672.3 L1568.6,675.7 L1569.9,681.0 L1571.1,684.2 L1572.5,686.4 L1573.8,687.3 L1575.1,688.0 L1576.4,685.3 L1577.8,677.6 L1579.0,655.7 L1579.7,640.2 L1580.3,625.8 L1581.3,609.4 L1582.9,605.9 L1583.4,605.8 L1584.2,609.1 L1585.6,626.8 L1587.2,680.3 L1588.1,713.6 L1588.8,733.8 L1589.4,747.9 L1590.9,773.9 L1592.0,788.6 L1593.0,800.6 L1594.6,816.1 L1595.7,827.4 L1597.2,845.9 L1597.9,854.1 L1598.5,862.4 L1600.0,878.3 L1601.1,882.9 L1602.4,886.5 L1603.2,887.1 L1603.7,886.8 L1605.0,885.0 L1606.3,882.2 L1607.2,880.7 L1608.9,878.3 L1610.2,875.7 L1611.2,872.9 L1612.8,861.9 L1613.9,853.9 L1615.4,847.6 L1616.6,844.6 L1618.0,841.5 L1619.3,840.1 L1619.8,840.7 L1620.6,841.5 L1621.9,845.4 L1623.3,848.3 L1624.5,849.6 L1625.9,851.1 L1627.1,849.8 L1628.4,846.1 L1629.4,843.1 L1631.0,835.2 L1632.6,822.1 L1633.6,811.1 L1635.3,787.3 L1636.2,774.3 L1637.5,754.6 L1638.0,747.2 L1638.8,730.6 L1640.1,709.7 L1641.4,703.7 L1642.2,702.1 L1642.7,703.1 L1644.4,715.1 L1645.3,739.3 L1646.0,760.5 L1646.6,773.3 L1648.1,800.6 L1649.2,821.8 L1650.0,835.4 L1650.5,842.2 L1651.8,857.2 L1652.7,864.7 L1654.4,875.6 L1656.1,883.3 L1657.0,886.7 L1658.3,891.7 L1659.6,895.7 L1660.7,897.6 L1662.2,896.8 L1663.5,896.0 L1664.7,896.0 L1666.1,895.1 L1667.4,893.4 L1668.7,892.2 L1669.5,892.4 L1670.0,892.5 L1671.3,892.6 L1672.6,893.8 L1674.1,896.0 L1675.2,897.9 L1676.5,899.3 L1677.8,900.3 L1679.4,902.1 L1680.4,903.5 L1681.7,905.9 L1683.4,908.5 L1684.3,909.2 L1685.6,909.5 L1686.9,909.1 L1687.4,908.0 L1688.2,907.8 L1689.5,907.1 L1690.8,905.4 L1691.4,904.6 L1692.1,903.1 L1693.4,897.8 L1694.7,891.4 L1696.0,882.3 L1697.3,872.7 L1698.6,865.9 L1699.9,859.6 L1700.8,854.0 L1702.5,839.3 L1703.5,827.4 L1705.3,787.3 L1706.4,763.2 L1707.5,733.8 L1709.1,667.0 L1710.3,612.3 L1711.6,557.5 L1712.7,538.1 L1714.2,551.2 L1715.5,577.0 L1716.5,600.0 L1718.1,651.9 L1719.3,700.0 L1720.7,775.3 L1721.5,796.8 L1722.0,791.5 L1723.3,743.3 L1724.3,700.0 L1725.9,642.6 L1726.4,618.3 L1727.2,548.7 L1728.1,461.8 L1729.8,357.5 L1730.5,320.0 L1731.1,281.6 L1732.2,233.9 L1734.0,320.0 L1735.0,391.7 L1735.8,461.8 L1736.3,517.7 L1737.2,618.3 L1738.9,729.1 L1739.5,760.0 L1740.1,787.3 L1741.5,816.4 L1742.2,827.4 L1742.8,835.2 L1744.1,850.8 L1744.9,859.4 L1745.4,864.4 L1746.7,877.1 L1747.6,883.5 L1749.3,892.0 L1750.6,897.0 L1751.6,899.7 L1753.2,903.3 L1754.5,905.7 L1755.8,907.7 L1757.0,909.7 L1758.4,913.1 L1759.7,916.5 L1761.0,919.6 L1762.3,922.5 L1763.6,924.5 L1764.9,925.9 L1766.2,927.2 L1767.6,928.9 L1768.8,929.9 L1770.1,931.2 L1771.4,933.0 L1772.7,934.3 L1774.3,935.1 L1775.3,935.6 L1776.6,936.1 L1777.9,936.9 L1779.2,937.7 L1780.5,938.4 L1781.8,938.7 L1782.4,938.9 L1783.1,939.4 L1784.4,939.2 L1785.7,939.2 L1787.0,939.8 L1788.3,939.4 L1789.6,939.3 L1790.4,939.6 L1790.9,939.3 L1792.2,939.5 L1793.5,939.8 L1794.8,940.4 L1796.1,941.3 L1797.4,941.3 L1798.4,941.9 L1800.0,943.6 L1801.3,944.8 L1802.6,945.8 L1803.9,946.4 L1805.1,946.5 L1806.5,946.8 L1807.8,947.6 L1809.1,948.3 L1810.4,948.6 L1811.7,948.9 L1813.1,949.8 L1814.3,950.0 L1815.6,949.4 L1816.9,949.2 L1818.2,950.2 L1819.5,951.2 L1820.8,951.6 L1822.5,951.9 L1823.4,951.8 L1824.7,952.0 L1826.0,952.4 L1827.3,952.8 L1828.6,953.2 L1829.9,952.7 L1831.2,952.2 L1832.5,952.2 L1833.2,951.6 L1833.8,951.6 L1835.1,952.5 L1836.4,952.4 L1837.7,952.0 L1839.0,952.3 L1840.3,951.4 L1841.6,950.1 L1842.9,950.0 L1843.9,949.9 L1845.5,949.7 L1846.8,950.3 L1848.1,950.3 L1849.4,949.7 L1850.7,949.5 L1852.0,948.9 L1853.7,947.8" fill="none" stroke="#000" stroke-width="7.2" stroke-linejoin="round" stroke-linecap="butt"/>
<path d="M107.0,1932.6 L108.3,1932.7 L109.6,1932.5 L110.9,1932.2 L112.2,1932.8 L113.5,1933.0 L115.0,1932.3 L116.1,1933.2 L117.4,1935.2 L118.8,1935.8 L120.0,1935.9 L121.3,1935.3 L122.6,1933.9 L123.8,1933.8 L125.2,1934.7 L126.5,1935.8 L127.8,1937.3 L128.8,1937.4 L130.4,1937.8 L131.7,1938.8 L133.0,1939.2 L134.3,1939.4 L135.1,1939.8 L135.6,1940.4 L136.9,1939.9 L138.2,1938.4 L139.5,1937.1 L140.8,1935.8 L141.4,1935.2 L142.1,1934.4 L143.4,1932.9 L144.7,1931.8 L146.4,1931.1 L147.3,1930.9 L148.9,1931.1 L149.9,1932.9 L151.2,1936.5 L152.6,1938.7 L153.8,1939.1 L155.1,1940.3 L156.4,1940.4 L157.7,1940.0 L159.0,1940.7 L160.2,1941.6 L161.6,1941.8 L162.9,1941.0 L164.2,1940.0 L165.5,1939.7 L166.8,1938.9 L167.7,1938.1 L169.4,1938.2 L170.7,1937.9 L172.0,1938.0 L173.3,1939.0 L174.6,1939.5 L175.2,1939.0 L175.9,1938.3 L177.2,1938.5 L178.5,1938.1 L180.2,1936.8 L181.1,1936.6 L182.4,1936.8 L183.7,1936.3 L185.2,1934.2 L186.3,1931.2 L187.6,1926.1 L188.2,1923.3 L188.9,1919.5 L190.2,1909.8 L190.7,1906.0 L191.5,1900.0 L193.3,1888.2 L194.1,1885.4 L195.4,1883.1 L196.5,1883.1 L198.0,1883.2 L199.0,1883.2 L200.6,1885.3 L201.5,1888.3 L203.3,1905.9 L204.5,1918.5 L205.3,1923.6 L205.8,1925.5 L207.1,1928.5 L208.3,1928.5 L209.7,1927.3 L211.0,1926.2 L211.6,1925.9 L212.3,1925.6 L213.6,1924.4 L214.8,1923.7 L216.2,1924.6 L217.8,1926.3 L218.8,1926.8 L220.1,1927.4 L221.4,1928.1 L222.8,1928.7 L224.0,1929.0 L225.3,1929.3 L226.6,1929.5 L227.9,1929.5 L229.2,1929.3 L230.4,1928.6 L231.8,1928.5 L233.1,1928.8 L234.4,1928.2 L235.7,1927.7 L236.6,1927.9 L238.3,1926.2 L239.9,1924.5 L240.9,1923.9 L242.4,1923.2 L243.5,1924.1 L244.8,1927.0 L245.4,1928.7 L246.1,1930.2 L247.4,1932.0 L249.2,1933.9 L250.0,1934.1 L251.3,1935.8 L252.9,1937.8 L253.9,1937.9 L255.2,1937.7 L256.5,1938.0 L257.8,1938.1 L259.1,1937.8 L260.4,1937.4 L261.7,1937.1 L263.0,1937.1 L264.3,1936.9 L265.6,1936.7 L266.9,1936.6 L268.2,1936.4 L269.5,1935.7 L270.5,1934.7 L272.1,1934.3 L273.4,1935.1 L274.7,1936.0 L276.0,1935.5 L277.3,1934.8 L278.6,1935.3 L279.9,1935.9 L280.5,1935.5 L281.2,1934.9 L282.5,1934.9 L283.8,1934.1 L285.1,1933.6 L286.4,1933.7 L287.7,1933.5 L289.0,1933.6 L290.5,1932.8 L291.6,1932.5 L292.9,1933.6 L294.2,1933.9 L295.5,1933.2 L296.8,1932.7 L298.0,1932.0 L299.4,1930.4 L300.7,1929.4 L302.0,1928.9 L303.3,1928.0 L304.3,1927.1 L305.9,1924.8 L307.2,1921.8 L308.5,1918.0 L309.3,1915.6 L309.8,1914.1 L311.1,1907.5 L312.6,1898.5 L313.7,1891.2 L315.0,1883.3 L315.6,1880.8 L316.3,1878.3 L317.6,1874.0 L318.6,1871.8 L320.2,1870.6 L321.9,1870.1 L322.8,1869.5 L324.1,1869.5 L325.6,1870.3 L326.7,1871.8 L328.0,1874.6 L329.4,1878.3 L330.6,1886.3 L331.9,1895.9 L333.2,1902.9 L334.5,1908.6 L335.1,1910.8 L335.8,1913.0 L337.1,1916.4 L338.4,1918.9 L339.4,1921.2 L341.0,1923.1 L342.3,1923.5 L343.2,1923.7 L343.6,1924.0 L344.9,1922.8 L346.2,1921.1 L346.9,1920.5 L347.5,1920.2 L348.8,1920.1 L350.1,1920.5 L350.7,1921.0 L351.4,1921.1 L352.7,1921.4 L354.4,1922.2 L355.3,1922.9 L356.6,1924.1 L358.2,1925.6 L359.2,1926.9 L360.5,1928.9 L362.0,1929.9 L363.1,1930.3 L364.4,1929.8 L365.7,1928.2 L367.0,1927.3 L368.3,1926.6 L369.5,1925.7 L370.9,1926.6 L372.2,1928.1 L373.3,1927.7 L374.8,1927.1 L376.1,1928.0 L377.4,1928.7 L378.3,1928.1 L378.7,1928.3 L380.0,1928.4 L381.3,1926.6 L382.0,1925.5 L382.6,1923.1 L384.0,1914.8 L385.2,1923.0 L385.8,1926.0 L386.5,1927.1 L387.8,1929.2 L389.5,1930.0 L390.4,1929.3 L391.7,1929.3 L393.0,1930.0 L394.3,1930.4 L395.6,1930.1 L396.9,1929.6 L398.2,1929.6 L399.5,1929.7 L400.8,1928.9 L402.1,1928.1 L403.4,1928.0 L404.7,1928.4 L406.0,1928.5 L407.3,1927.9 L408.6,1928.0 L409.9,1928.7 L410.9,1929.7 L412.5,1929.3 L413.8,1927.9 L415.1,1927.8 L416.4,1928.3 L417.7,1928.1 L418.4,1928.0 L419.0,1927.5 L420.3,1925.6 L421.6,1924.2 L422.1,1923.5 L422.9,1922.6 L424.2,1922.0 L425.5,1921.2 L426.8,1920.4 L428.4,1919.9 L429.4,1920.1 L430.7,1920.7 L432.0,1920.0 L433.3,1918.7 L434.7,1917.5 L435.9,1915.4 L437.2,1913.0 L438.4,1910.6 L439.8,1905.5 L441.4,1895.9 L442.4,1885.8 L443.4,1873.4 L445.4,1853.8 L446.3,1853.7 L448.0,1852.2 L448.9,1860.8 L449.7,1873.4 L450.2,1882.9 L451.0,1895.9 L451.5,1901.3 L453.0,1910.0 L454.1,1911.8 L455.4,1912.8 L456.0,1912.3 L456.7,1911.3 L458.0,1910.4 L459.3,1909.9 L461.0,1909.7 L461.9,1909.7 L463.2,1909.5 L464.5,1909.3 L465.8,1909.1 L467.1,1909.0 L468.5,1909.0 L469.7,1908.7 L471.0,1908.5 L472.3,1907.9 L473.6,1907.6 L474.9,1908.0 L476.0,1907.6 L477.5,1906.5 L478.8,1905.5 L480.5,1903.6 L481.4,1901.5 L482.7,1896.0 L483.6,1890.8 L484.0,1886.5 L485.6,1860.8 L486.6,1841.4 L487.9,1809.7 L489.0,1764.6 L489.9,1643.3 L490.5,1571.9 L491.1,1522.0 L491.8,1487.8 L493.2,1440.0 L494.2,1400.7 L494.9,1380.5 L495.4,1400.7 L496.2,1440.0 L497.0,1487.9 L497.5,1522.0 L498.7,1643.3 L499.6,1698.2 L501.1,1764.6 L502.2,1809.9 L502.7,1825.3 L503.5,1847.5 L504.8,1870.8 L506.1,1878.3 L507.4,1889.0 L508.4,1895.2 L510.0,1899.0 L511.3,1900.6 L511.8,1900.6 L512.6,1901.2 L513.9,1901.7 L515.2,1901.8 L516.5,1901.4 L517.8,1900.9 L518.4,1900.8 L519.1,1901.3 L520.4,1902.3 L521.7,1903.2 L522.6,1904.0 L524.3,1904.0 L525.6,1903.5 L526.9,1904.4 L528.2,1906.6 L529.5,1909.0 L531.1,1911.1 L532.1,1911.1 L533.4,1911.4 L534.7,1912.5 L535.4,1912.3 L536.0,1911.8 L537.3,1913.1 L538.6,1914.5 L539.1,1914.5 L539.9,1914.7 L541.2,1913.7 L542.5,1911.1 L543.8,1906.9 L544.8,1900.9 L545.9,1872.5 L546.4,1865.5 L547.6,1855.5 L549.0,1853.3 L550.5,1853.0 L551.6,1856.0 L552.7,1859.5 L554.2,1852.3 L555.0,1847.0 L555.5,1842.8 L556.7,1834.9 L558.1,1834.9 L559.6,1834.9 L560.7,1839.7 L561.8,1849.8 L563.2,1878.2 L564.6,1896.6 L565.2,1901.0 L565.9,1903.1 L567.2,1906.6 L568.6,1908.0 L569.8,1907.1 L571.1,1906.9 L572.4,1907.0 L573.8,1906.1 L575.0,1905.2 L576.3,1905.2 L577.6,1906.0 L578.9,1906.3 L579.4,1905.8 L580.2,1904.8 L581.5,1901.2 L582.8,1897.0 L583.7,1894.6 L585.4,1893.0 L586.7,1893.0 L588.0,1892.5 L589.4,1891.1 L590.6,1890.2 L591.9,1889.4 L593.6,1888.3 L594.5,1887.1 L595.8,1884.1 L597.1,1881.0 L598.4,1877.1 L599.3,1875.6 L601.0,1883.4 L601.6,1885.2 L602.3,1885.8 L603.6,1886.4 L604.9,1886.8 L606.4,1887.4 L607.5,1887.3 L608.8,1885.7 L610.1,1883.0 L611.3,1880.8 L612.7,1870.5 L613.5,1864.1 L614.0,1861.2 L615.3,1854.5 L615.8,1854.4 L616.6,1855.3 L617.9,1855.7 L618.7,1855.6 L619.2,1857.7 L620.6,1865.7 L621.8,1865.9 L623.1,1865.5 L624.4,1866.3 L624.9,1867.9 L625.7,1868.7 L627.0,1869.4 L628.3,1870.8 L629.2,1871.6 L629.6,1871.6 L630.9,1874.4 L632.2,1877.6 L633.4,1879.7 L634.8,1880.3 L636.1,1879.7 L637.7,1878.6 L638.7,1873.5 L640.0,1863.4 L640.5,1860.9 L641.3,1859.0 L642.6,1857.7 L643.4,1857.7 L643.9,1857.5 L645.6,1861.3 L646.5,1866.6 L647.6,1875.3 L649.1,1884.2 L650.5,1889.4 L651.7,1891.3 L653.0,1893.2 L654.7,1895.5 L655.6,1896.7 L656.9,1897.6 L658.2,1898.3 L659.0,1899.2 L659.5,1900.4 L660.8,1902.4 L662.1,1904.4 L663.3,1905.4 L664.7,1904.4 L666.0,1903.2 L667.3,1902.8 L668.9,1902.2 L669.9,1902.2 L671.2,1903.2 L672.5,1904.1 L673.8,1905.7 L674.6,1906.7 L675.1,1906.7 L676.4,1906.7 L677.7,1906.7 L679.0,1906.4 L680.3,1905.5 L681.7,1905.1 L682.9,1905.3 L684.2,1905.9 L685.5,1906.4 L686.8,1906.7 L688.1,1907.4 L689.4,1907.9 L690.3,1908.2 L690.7,1908.4 L692.0,1908.4 L693.3,1908.3 L694.6,1908.5 L695.9,1908.5 L697.2,1907.6 L698.8,1907.6 L699.8,1908.3 L701.1,1907.3 L702.4,1905.6 L703.7,1904.7 L704.5,1904.4 L705.0,1904.4 L706.3,1903.8 L707.6,1902.3 L708.9,1901.0 L709.6,1900.9 L710.2,1902.0 L711.5,1903.6 L712.8,1904.6 L714.4,1905.8 L715.4,1906.4 L716.7,1906.2 L718.0,1905.2 L719.3,1905.4 L720.1,1906.6 L720.6,1906.7 L721.9,1905.2 L723.2,1902.8 L724.3,1900.6 L725.8,1897.2 L727.1,1893.7 L728.6,1889.9 L729.7,1887.2 L731.0,1885.1 L732.3,1884.6 L732.9,1884.6 L733.6,1884.0 L734.9,1883.7 L735.7,1883.5 L736.2,1883.5 L737.5,1885.6 L738.8,1888.6 L740.0,1891.5 L741.4,1893.6 L742.7,1894.5 L744.2,1895.0 L745.3,1895.3 L746.6,1895.4 L747.9,1894.5 L749.2,1893.0 L749.9,1892.6 L750.5,1892.3 L751.8,1891.5 L753.1,1890.3 L754.4,1889.4 L755.6,1888.7 L757.0,1886.3 L758.3,1883.1 L759.9,1878.7 L760.9,1874.9 L762.2,1868.9 L763.6,1861.1 L764.8,1851.2 L766.4,1832.8 L767.4,1811.3 L768.4,1787.3 L770.4,1744.7 L771.3,1737.5 L772.6,1732.3 L773.9,1740.0 L774.9,1753.2 L776.3,1801.5 L777.8,1836.4 L778.3,1844.1 L779.1,1852.6 L780.4,1863.0 L781.2,1866.9 L781.7,1868.9 L783.0,1872.8 L784.3,1875.7 L785.4,1877.5 L786.9,1879.5 L788.2,1880.8 L789.7,1882.0 L790.8,1882.1 L792.1,1880.3 L793.4,1878.1 L794.7,1875.8 L795.4,1875.1 L796.0,1874.6 L797.3,1872.4 L798.6,1870.3 L799.6,1868.2 L801.2,1864.7 L802.5,1862.4 L803.9,1861.2 L805.1,1860.3 L806.4,1858.4 L808.2,1857.6 L809.0,1859.9 L810.3,1864.9 L811.0,1866.3 L811.6,1865.7 L812.9,1865.1 L814.2,1865.6 L814.7,1866.1 L815.5,1864.6 L816.8,1859.2 L818.1,1852.7 L819.4,1845.9 L820.4,1839.5 L822.0,1821.9 L822.9,1808.7 L823.9,1788.2 L824.6,1777.4 L825.4,1767.6 L825.9,1762.1 L827.4,1747.1 L828.7,1726.6 L829.5,1706.0 L830.1,1685.5 L831.1,1664.9 L832.4,1652.7 L833.6,1644.4 L835.0,1634.4 L836.3,1623.8 L837.7,1603.3 L838.9,1582.7 L839.8,1562.2 L840.4,1541.6 L841.0,1521.1 L841.5,1512.1 L842.6,1502.4 L844.1,1511.0 L844.9,1521.1 L845.5,1541.6 L846.5,1582.7 L848.2,1623.8 L849.0,1664.9 L849.6,1706.0 L850.2,1747.1 L851.1,1788.2 L851.9,1805.1 L853.2,1822.8 L853.7,1829.3 L854.5,1842.0 L855.2,1849.9 L855.8,1854.1 L857.1,1861.2 L858.4,1864.2 L859.7,1863.7 L861.0,1862.9 L862.0,1861.7 L863.6,1859.2 L864.9,1857.8 L866.6,1856.6 L867.5,1857.1 L868.8,1859.8 L869.5,1861.1 L870.1,1862.7 L871.4,1866.7 L872.7,1870.7 L874.0,1874.8 L875.3,1878.9 L876.8,1882.3 L877.9,1884.0 L879.2,1885.0 L880.5,1886.0 L881.8,1887.6 L883.1,1889.0 L884.4,1890.4 L885.0,1891.1 L885.7,1892.7 L886.3,1893.7 L887.0,1894.3 L888.3,1895.6 L889.6,1896.7 L890.9,1896.7 L892.2,1895.9 L893.5,1895.8 L894.8,1896.3 L896.1,1895.9 L897.4,1896.1 L898.7,1897.2 L900.0,1897.1 L901.3,1896.4 L902.6,1896.5 L903.3,1897.2 L903.9,1897.0 L905.2,1896.5 L906.5,1895.9 L907.8,1894.8 L909.0,1894.6 L910.4,1895.4 L911.7,1896.0 L913.0,1896.4 L914.3,1896.3 L915.6,1896.3 L916.9,1897.5 L917.5,1898.2 L918.2,1898.2 L919.5,1898.6 L920.8,1898.6 L922.1,1898.7 L923.4,1899.9 L924.7,1900.8 L926.1,1901.7 L927.3,1902.5 L928.6,1903.4 L929.9,1905.3 L931.2,1907.1 L932.5,1907.6 L933.8,1907.1 L934.6,1906.9 L935.1,1908.1 L936.4,1909.8 L937.7,1910.1 L939.0,1909.7 L940.3,1910.0 L941.6,1910.8 L942.9,1911.6 L944.2,1912.3 L945.5,1912.0 L946.8,1911.7 L948.1,1912.1 L948.8,1912.5 L949.4,1912.8 L950.7,1912.8 L952.0,1912.7 L953.3,1913.2 L954.6,1913.0 L955.9,1912.4 L957.2,1912.9 L958.5,1913.7 L959.8,1913.7 L961.1,1912.7 L962.4,1911.7 L963.0,1911.5 L963.7,1912.0 L965.0,1912.5 L966.3,1912.4 L967.6,1912.0 L968.9,1911.7 L970.2,1911.9 L971.5,1912.4 L972.8,1912.0 L974.1,1911.5 L975.4,1911.6 L976.7,1912.2 L977.2,1912.8 L978.0,1912.5 L979.3,1912.1 L980.6,1913.1 L982.3,1914.3" fill="none" stroke="#000" stroke-width="7.2" stroke-linejoin="round" stroke-linecap="butt"/>
<path d="M980.0,1903.4 L981.3,1896.1 L982.5,1890.9 L983.9,1886.9 L985.2,1883.3 L986.3,1880.4 L987.8,1875.0 L989.5,1868.5 L990.4,1865.5 L991.7,1862.3 L992.5,1861.8 L993.0,1861.1 L994.3,1863.2 L995.6,1866.5 L996.9,1871.7 L998.2,1877.2 L998.8,1878.8 L999.5,1879.6 L1000.8,1881.6 L1002.1,1882.8 L1002.6,1883.5 L1003.4,1884.9 L1004.7,1885.4 L1006.3,1885.7 L1007.3,1888.6 L1008.8,1895.6 L1009.9,1899.4 L1011.3,1902.9 L1012.5,1903.6 L1013.8,1903.4 L1015.1,1903.8 L1016.4,1903.2 L1017.7,1901.0 L1018.9,1899.1 L1020.3,1894.3 L1021.4,1892.7 L1022.9,1893.0 L1024.6,1892.2 L1025.5,1894.2 L1026.8,1900.0 L1027.6,1902.6 L1028.1,1903.3 L1029.4,1904.2 L1030.7,1904.3 L1031.4,1904.6 L1032.0,1905.3 L1033.3,1903.9 L1034.7,1900.8 L1035.9,1892.8 L1036.4,1891.4 L1037.2,1891.8 L1038.5,1890.8 L1039.7,1889.8 L1041.1,1889.6 L1042.4,1889.3 L1043.2,1889.0 L1043.7,1888.3 L1045.0,1884.2 L1045.7,1882.6 L1046.3,1882.3 L1047.6,1881.7 L1049.0,1881.5 L1050.2,1883.6 L1051.5,1888.4 L1053.2,1901.1 L1054.1,1905.2 L1055.7,1910.0 L1056.7,1911.7 L1058.0,1913.7 L1059.0,1915.4 L1060.6,1919.9 L1061.5,1921.5 L1063.2,1923.7 L1064.7,1925.7 L1065.8,1924.9 L1067.1,1921.6 L1068.3,1918.7 L1069.7,1914.7 L1071.0,1911.2 L1071.5,1910.6 L1072.3,1909.7 L1073.6,1908.4 L1074.8,1907.2 L1076.5,1891.0 L1077.5,1882.6 L1078.3,1878.3 L1078.8,1877.4 L1080.3,1875.7 L1081.4,1877.3 L1082.8,1883.4 L1084.0,1891.8 L1084.8,1898.4 L1085.3,1902.9 L1086.6,1913.3 L1087.9,1919.5 L1089.1,1922.3 L1090.5,1923.1 L1091.6,1923.3 L1093.1,1920.6 L1094.8,1916.1 L1095.7,1914.7 L1097.0,1912.3 L1097.8,1911.2 L1098.3,1910.9 L1099.6,1911.8 L1100.9,1912.7 L1101.6,1913.1 L1102.2,1914.1 L1103.5,1917.5 L1104.1,1918.1 L1104.8,1918.9 L1106.1,1921.8 L1107.4,1924.9 L1107.9,1925.5 L1108.7,1925.5 L1110.0,1926.5 L1111.3,1927.7 L1112.4,1928.1 L1113.9,1928.9 L1115.2,1929.7 L1116.5,1930.0 L1117.9,1930.2 L1119.1,1929.5 L1120.4,1928.5 L1121.7,1928.4 L1122.9,1928.3 L1124.3,1926.8 L1125.6,1924.7 L1126.7,1923.3 L1128.2,1921.7 L1129.5,1920.1 L1130.4,1919.5 L1132.1,1915.0 L1132.9,1910.9 L1133.4,1906.4 L1134.9,1888.3 L1136.0,1885.5 L1137.4,1884.7 L1138.6,1885.6 L1140.0,1886.2 L1141.2,1894.9 L1141.7,1898.4 L1142.5,1902.3 L1144.2,1907.0 L1145.1,1906.4 L1146.7,1901.0 L1147.7,1891.5 L1148.5,1883.4 L1149.0,1879.4 L1150.5,1871.7 L1151.6,1870.1 L1153.0,1869.8 L1154.2,1872.0 L1155.5,1874.7 L1156.0,1874.6 L1156.8,1874.1 L1158.1,1873.6 L1159.3,1873.2 L1160.7,1873.2 L1162.0,1873.6 L1162.5,1874.0 L1163.3,1876.6 L1165.0,1886.0 L1165.9,1891.8 L1167.5,1901.4 L1168.5,1903.5 L1169.8,1905.1 L1171.0,1905.7 L1172.4,1905.6 L1173.7,1904.2 L1174.3,1902.7 L1175.0,1901.7 L1176.3,1900.0 L1178.1,1897.0 L1178.9,1896.1 L1180.2,1893.4 L1181.8,1888.4 L1182.8,1884.1 L1184.1,1877.1 L1185.1,1871.0 L1186.7,1856.0 L1187.6,1848.4 L1189.3,1837.3 L1190.1,1833.1 L1190.6,1830.8 L1191.9,1826.2 L1193.1,1820.8 L1194.5,1809.2 L1195.6,1800.7 L1197.1,1793.1 L1197.6,1791.8 L1198.4,1792.3 L1199.7,1792.7 L1200.6,1792.3 L1202.3,1794.2 L1203.6,1798.3 L1204.9,1805.2 L1206.1,1813.3 L1207.5,1821.4 L1208.6,1828.1 L1210.1,1837.8 L1211.1,1843.3 L1212.7,1848.6 L1214.4,1852.7 L1215.3,1853.8 L1216.6,1854.4 L1218.2,1855.5 L1219.2,1856.1 L1220.5,1855.4 L1221.9,1855.8 L1223.1,1857.8 L1224.4,1859.9 L1225.2,1860.8 L1225.7,1861.7 L1227.0,1864.1 L1228.2,1866.2 L1229.6,1868.4 L1230.9,1869.8 L1232.2,1870.4 L1233.2,1870.3 L1234.8,1869.8 L1236.1,1868.8 L1237.4,1867.4 L1238.2,1867.2 L1238.7,1867.5 L1240.0,1866.2 L1241.3,1863.9 L1242.7,1860.9 L1243.9,1857.9 L1245.2,1853.2 L1245.7,1850.7 L1246.5,1846.8 L1248.3,1835.8 L1249.1,1830.9 L1250.8,1820.7 L1251.7,1810.6 L1252.8,1798.1 L1254.3,1781.6 L1255.3,1772.9 L1257.0,1761.2 L1258.2,1759.9 L1258.8,1760.4 L1259.5,1763.0 L1260.8,1773.1 L1262.1,1788.8 L1262.8,1798.1 L1263.4,1806.8 L1264.5,1823.3 L1266.3,1848.3 L1267.3,1858.9 L1268.3,1865.9 L1269.9,1871.7 L1271.3,1874.4 L1272.5,1873.9 L1273.8,1871.4 L1274.6,1869.8 L1275.1,1869.0 L1276.4,1866.6 L1277.7,1863.0 L1278.3,1860.8 L1279.0,1857.3 L1280.3,1847.4 L1280.8,1843.3 L1281.6,1836.4 L1283.3,1823.6 L1284.2,1821.7 L1285.5,1819.9 L1287.1,1818.0 L1288.1,1816.1 L1289.4,1814.1 L1290.4,1813.7 L1292.0,1812.4 L1293.4,1811.6 L1294.6,1812.9 L1295.9,1814.9 L1296.4,1815.4 L1297.2,1819.7 L1298.4,1828.2 L1299.8,1836.7 L1300.9,1843.4 L1302.4,1853.2 L1303.4,1858.4 L1305.0,1865.3 L1306.4,1867.7 L1307.6,1867.3 L1308.9,1866.3 L1309.7,1865.2 L1310.2,1864.3 L1311.5,1862.1 L1312.8,1858.9 L1313.4,1857.3 L1314.1,1856.4 L1315.4,1854.2 L1316.7,1852.6 L1317.2,1852.9 L1318.0,1852.4 L1319.3,1851.2 L1320.4,1850.9 L1321.9,1852.9 L1323.5,1856.2 L1324.5,1858.4 L1325.8,1861.6 L1327.2,1864.6 L1328.4,1867.5 L1329.7,1870.5 L1331.0,1872.7 L1332.3,1874.9 L1333.6,1877.5 L1334.9,1879.5 L1336.0,1880.0 L1337.5,1881.6 L1338.8,1883.9 L1340.1,1885.8 L1341.0,1886.4 L1342.7,1887.1 L1344.0,1887.9 L1345.3,1888.8 L1346.0,1888.5 L1346.6,1887.7 L1347.9,1887.0 L1349.2,1886.6 L1350.5,1886.9 L1351.8,1887.7 L1353.5,1887.4 L1354.4,1886.8 L1355.7,1886.2 L1357.0,1885.8 L1358.3,1885.6 L1359.6,1884.5 L1361.1,1883.7 L1362.2,1884.2 L1363.5,1884.6 L1364.8,1884.0 L1366.1,1882.4 L1367.4,1881.8 L1368.6,1882.3 L1370.0,1882.2 L1371.3,1881.9 L1372.6,1881.4 L1373.9,1880.3 L1375.2,1879.7 L1376.1,1879.9 L1377.8,1880.2 L1379.1,1880.4 L1380.4,1880.9 L1381.7,1882.0 L1383.0,1883.3 L1383.6,1883.2 L1384.3,1882.6 L1385.6,1882.6 L1386.9,1882.1 L1388.2,1880.8 L1389.5,1879.9 L1391.1,1879.3 L1392.1,1879.3 L1393.4,1879.5 L1394.7,1879.4 L1396.0,1878.5 L1397.4,1877.4 L1398.6,1875.6 L1399.9,1873.0 L1401.2,1870.6 L1402.4,1867.8 L1403.8,1862.9 L1405.1,1856.8 L1406.2,1850.9 L1407.7,1840.2 L1408.7,1830.8 L1410.7,1798.2 L1411.6,1786.7 L1412.5,1778.1 L1412.9,1774.0 L1414.2,1763.8 L1415.0,1760.6 L1415.5,1759.6 L1416.8,1758.0 L1418.1,1756.1 L1418.7,1755.0 L1419.4,1752.8 L1420.7,1746.1 L1421.7,1740.5 L1423.3,1731.6 L1424.6,1723.6 L1425.9,1716.0 L1427.2,1709.7 L1428.9,1704.4 L1429.8,1703.0 L1431.1,1701.6 L1432.1,1700.1 L1433.7,1694.3 L1434.2,1692.2 L1435.0,1689.0 L1436.1,1685.7 L1437.6,1683.6 L1438.9,1682.5 L1439.6,1682.3 L1440.2,1683.1 L1441.5,1687.9 L1442.2,1692.4 L1442.8,1701.6 L1443.6,1721.8 L1444.1,1736.6 L1444.9,1759.3 L1445.4,1770.2 L1446.8,1796.7 L1448.0,1819.7 L1448.7,1828.8 L1449.3,1835.1 L1450.8,1845.0 L1451.9,1849.1 L1453.5,1852.0 L1454.5,1850.0 L1455.8,1846.6 L1456.7,1845.3 L1458.4,1844.6 L1460.2,1843.1 L1461.0,1840.2 L1462.3,1835.1 L1462.8,1834.2 L1463.6,1833.7 L1464.9,1832.8 L1465.5,1832.3 L1466.2,1832.9 L1467.5,1835.9 L1468.2,1836.9 L1468.8,1837.8 L1470.1,1840.6 L1471.7,1842.8 L1472.7,1844.2 L1474.0,1846.1 L1475.4,1846.2 L1476.6,1844.8 L1477.9,1843.4 L1478.9,1842.3 L1480.5,1839.6 L1481.8,1837.3 L1482.9,1835.1 L1484.4,1831.9 L1485.7,1829.0 L1486.9,1825.8 L1488.3,1821.7 L1489.6,1817.7 L1490.9,1812.8 L1492.2,1806.2 L1493.5,1798.1 L1494.1,1794.1 L1494.8,1789.4 L1496.1,1779.2 L1496.8,1772.6 L1497.4,1764.5 L1498.9,1740.5 L1500.0,1726.9 L1501.1,1713.8 L1502.9,1687.0 L1503.9,1676.7 L1504.8,1672.0 L1506.5,1671.7 L1507.8,1670.7 L1508.3,1669.7 L1509.1,1670.6 L1510.4,1674.3 L1511.0,1675.9 L1511.7,1677.9 L1513.0,1679.5 L1514.4,1681.6 L1515.6,1686.2 L1516.6,1692.4 L1518.2,1713.7 L1519.8,1732.4 L1520.8,1737.4 L1522.5,1740.5 L1523.4,1738.9 L1525.1,1732.5 L1526.0,1727.9 L1527.3,1719.3 L1527.8,1716.7 L1528.6,1712.8 L1529.9,1706.7 L1531.6,1700.1 L1532.5,1696.9 L1533.8,1692.5 L1535.1,1687.3 L1535.8,1684.0 L1536.4,1681.4 L1537.7,1675.2 L1539.0,1668.2 L1540.3,1658.9 L1541.7,1649.9 L1542.9,1646.1 L1544.4,1643.3 L1545.5,1641.3 L1546.8,1638.9 L1548.4,1635.2 L1549.4,1632.0 L1550.7,1627.5 L1551.9,1622.8 L1553.3,1616.0 L1554.5,1606.8 L1555.9,1573.9 L1557.2,1528.8 L1557.9,1510.8 L1558.5,1499.4 L1559.8,1479.6 L1560.5,1470.0 L1561.1,1461.9 L1562.8,1440.0 L1563.7,1418.0 L1564.2,1412.0 L1565.0,1423.2 L1565.8,1440.0 L1566.3,1447.5 L1568.0,1470.0 L1568.9,1482.4 L1570.2,1500.3 L1570.9,1510.8 L1571.5,1521.6 L1572.8,1547.2 L1573.5,1560.0 L1574.1,1570.5 L1575.4,1591.7 L1576.7,1612.3 L1577.5,1625.5 L1578.0,1633.5 L1579.7,1660.4 L1580.6,1672.2 L1582.4,1689.7 L1583.2,1696.0 L1584.5,1703.5 L1585.0,1705.8 L1585.8,1708.4 L1587.1,1711.4 L1588.5,1713.0 L1589.7,1713.9 L1591.0,1715.2 L1592.3,1715.9 L1593.0,1716.1 L1593.6,1716.6 L1594.9,1717.5 L1596.2,1718.6 L1597.9,1719.2 L1598.8,1718.6 L1600.1,1717.4 L1601.4,1716.5 L1601.9,1716.6 L1602.7,1717.5 L1604.0,1718.5 L1605.3,1718.8 L1606.4,1718.2 L1607.9,1721.2 L1609.2,1727.0 L1609.9,1729.9 L1610.5,1732.5 L1611.8,1737.9 L1612.6,1740.4 L1613.1,1742.3 L1614.4,1746.4 L1616.0,1751.5 L1617.0,1755.2 L1618.3,1759.7 L1619.3,1761.2 L1620.9,1762.8 L1622.2,1763.6 L1623.5,1764.5 L1624.6,1764.5 L1626.1,1763.3 L1627.4,1762.7 L1628.7,1761.8 L1629.4,1761.0 L1630.0,1761.0 L1631.3,1760.2 L1632.6,1758.8 L1633.2,1759.1 L1633.9,1760.2 L1635.2,1760.7 L1636.6,1761.6 L1637.8,1763.0 L1639.1,1764.6 L1640.1,1765.1 L1641.7,1763.2 L1643.0,1760.5 L1643.9,1758.7 L1644.3,1757.5 L1645.6,1752.3 L1647.3,1743.2 L1648.2,1738.7 L1649.5,1731.8 L1650.8,1721.9 L1652.1,1699.8 L1652.7,1687.1 L1653.4,1665.4 L1654.0,1647.0 L1654.7,1628.5 L1656.0,1597.3 L1657.3,1567.9 L1658.6,1537.9 L1659.7,1510.8 L1661.5,1460.0 L1662.5,1443.0 L1663.8,1425.0 L1665.5,1400.6 L1666.4,1409.2 L1667.3,1425.0 L1669.3,1460.0 L1670.4,1510.8 L1671.6,1540.8 L1672.9,1564.5 L1674.2,1583.3 L1674.8,1591.1 L1675.5,1600.5 L1676.8,1616.1 L1678.0,1625.0 L1679.4,1630.7 L1680.7,1633.9 L1681.5,1634.4 L1682.0,1633.6 L1683.3,1628.5 L1684.0,1625.9 L1684.6,1624.2 L1685.9,1621.1 L1687.3,1619.7 L1688.5,1621.8 L1689.8,1626.4 L1690.5,1628.3 L1691.1,1629.7 L1692.4,1632.5 L1694.0,1633.9 L1695.0,1632.1 L1696.3,1622.8 L1697.5,1611.0 L1698.9,1588.3 L1700.5,1551.0 L1701.5,1518.7 L1702.4,1490.0 L1704.1,1452.6 L1705.0,1430.6 L1707.0,1350.3 L1708.0,1321.5 L1709.0,1300.0 L1710.8,1275.1 L1711.9,1268.3 L1712.4,1267.6 L1713.2,1270.4 L1714.0,1280.0 L1714.9,1350.3 L1715.8,1399.4 L1716.5,1430.6 L1717.1,1457.0 L1718.5,1510.8 L1719.7,1556.4 L1720.5,1580.0 L1721.0,1592.9 L1722.0,1608.0 L1723.6,1593.4 L1724.5,1580.0 L1726.5,1540.0 L1727.5,1513.3 L1728.5,1490.0 L1730.2,1468.1 L1731.4,1467.4 L1732.5,1467.0 L1734.0,1510.8 L1735.3,1545.5 L1736.0,1560.0 L1736.6,1569.7 L1737.9,1585.7 L1739.6,1606.9 L1740.5,1624.5 L1741.7,1647.0 L1743.1,1665.1 L1744.4,1679.1 L1745.7,1693.5 L1747.1,1705.8 L1748.3,1714.0 L1749.6,1721.2 L1750.3,1724.8 L1750.9,1728.1 L1752.2,1734.7 L1753.5,1740.4 L1754.8,1745.9 L1756.1,1750.8 L1757.8,1755.0 L1758.7,1756.4 L1760.0,1758.6 L1761.3,1760.7 L1762.3,1761.9 L1763.9,1763.7 L1765.2,1765.3 L1766.5,1766.6 L1767.6,1767.5 L1769.1,1769.2 L1770.4,1770.1 L1771.7,1770.4 L1773.0,1771.2 L1774.3,1772.5 L1775.6,1773.0 L1776.9,1772.8 L1778.3,1773.0 L1779.5,1772.9 L1780.8,1772.0 L1782.1,1770.0 L1783.7,1769.0 L1784.7,1770.1 L1786.0,1770.8 L1787.3,1771.4 L1789.0,1773.0 L1789.9,1773.9 L1791.2,1773.7 L1792.5,1774.0 L1793.8,1775.6 L1795.1,1776.6 L1795.7,1776.1 L1796.4,1775.8 L1797.7,1776.8 L1799.0,1778.0 L1800.3,1778.3 L1801.6,1778.3 L1802.9,1778.6 L1803.7,1778.7 L1804.2,1778.1 L1805.5,1777.3 L1806.8,1776.4 L1808.1,1776.0 L1809.4,1775.9 L1810.7,1775.1 L1811.8,1774.6 L1813.3,1775.0 L1814.6,1775.1 L1815.9,1774.4 L1817.2,1774.4 L1818.5,1774.5 L1819.8,1774.2 L1821.1,1773.4 L1822.4,1772.1 L1823.7,1771.0 L1825.0,1770.1 L1826.3,1769.6 L1827.8,1768.7 L1828.9,1768.0 L1830.2,1767.4 L1831.5,1766.7 L1832.8,1766.1 L1834.5,1765.2 L1835.4,1764.5 L1836.7,1763.4 L1838.0,1762.4 L1839.3,1761.6 L1840.6,1760.9 L1841.2,1760.1 L1841.9,1759.3 L1843.2,1759.2 L1844.5,1759.0 L1845.8,1758.4 L1846.5,1758.1 L1847.1,1758.0 L1848.4,1758.0 L1849.7,1757.5 L1851.0,1757.5 L1852.3,1758.3 L1853.7,1758.9" fill="none" stroke="#000" stroke-width="7.2" stroke-linejoin="round" stroke-linecap="butt"/>
<text transform="translate(146.1,913.2) scale(1.09,1)" font-size="60.2" text-anchor="middle" stroke="#000" stroke-width="1.4">*</text>
<text transform="translate(541.8,839.0) scale(1.09,1)" font-size="60.2" text-anchor="middle" stroke="#000" stroke-width="1.4">*</text>
<text transform="translate(700.4,327.5) scale(1.09,1)" font-size="60.2" text-anchor="middle" stroke="#000" stroke-width="1.4">*</text>
<text transform="translate(785.9,611.6) scale(1.09,1)" font-size="60.2" text-anchor="middle" stroke="#000" stroke-width="1.4">*</text>
<text transform="translate(1183.1,915.0) scale(1.09,1)" font-size="60.2" text-anchor="middle" stroke="#000" stroke-width="1.4">*</text>
<text transform="translate(1435.2,769.4) scale(1.09,1)" font-size="60.2" text-anchor="middle" stroke="#000" stroke-width="1.4">*</text>
<text transform="translate(1465.1,733.3) scale(1.09,1)" font-size="60.2" text-anchor="middle" stroke="#000" stroke-width="1.4">*</text>
<text transform="translate(1560.8,607.0) scale(1.09,1)" font-size="60.2" text-anchor="middle" stroke="#000" stroke-width="1.4">*</text>
<text transform="translate(1583.4,613.0) scale(1.09,1)" font-size="60.2" text-anchor="middle" stroke="#000" stroke-width="1.4">*</text>
<text transform="translate(1712.7,545.1) scale(1.09,1)" font-size="60.2" text-anchor="middle" stroke="#000" stroke-width="1.4">*</text>
<text transform="translate(1733.5,238.6) scale(1.09,1)" font-size="60.2" text-anchor="middle" stroke="#000" stroke-width="1.4">*</text>
<text transform="translate(200.0,1893.7) scale(1.09,1)" font-size="60.2" text-anchor="middle" stroke="#000" stroke-width="1.4">*</text>
<text transform="translate(324.0,1879.9) scale(1.09,1)" font-size="60.2" text-anchor="middle" stroke="#000" stroke-width="1.4">*</text>
<text transform="translate(448.2,1864.2) scale(1.09,1)" font-size="60.2" text-anchor="middle" stroke="#000" stroke-width="1.4">*</text>
<text transform="translate(559.8,1848.3) scale(1.09,1)" font-size="60.2" text-anchor="middle" stroke="#000" stroke-width="1.4">*</text>
<text transform="translate(774.1,1744.6) scale(1.09,1)" font-size="60.2" text-anchor="middle" stroke="#000" stroke-width="1.4">*</text>
<text transform="translate(495.9,1391.1) scale(1.09,1)" font-size="60.2" text-anchor="middle" stroke="#000" stroke-width="1.4">*</text>
<text transform="translate(844.0,1513.1) scale(1.09,1)" font-size="60.2" text-anchor="middle" stroke="#000" stroke-width="1.4">*</text>
<text transform="translate(1258.5,1781.5) scale(1.09,1)" font-size="60.2" text-anchor="middle" stroke="#000" stroke-width="1.4">*</text>
<text transform="translate(1440.5,1695.3) scale(1.09,1)" font-size="60.2" text-anchor="middle" stroke="#000" stroke-width="1.4">*</text>
<text transform="translate(1562.4,1422.8) scale(1.09,1)" font-size="60.2" text-anchor="middle" stroke="#000" stroke-width="1.4">*</text>
<text transform="translate(1662.4,1410.8) scale(1.09,1)" font-size="60.2" text-anchor="middle" stroke="#000" stroke-width="1.4">*</text>
<text transform="translate(1712.6,1285.1) scale(1.09,1)" font-size="60.2" text-anchor="middle" stroke="#000" stroke-width="1.4">*</text>
<text transform="translate(1734.6,1477.0) scale(1.09,1)" font-size="60.2" text-anchor="middle" stroke="#000" stroke-width="1.4">*</text>
</svg></body></html>
